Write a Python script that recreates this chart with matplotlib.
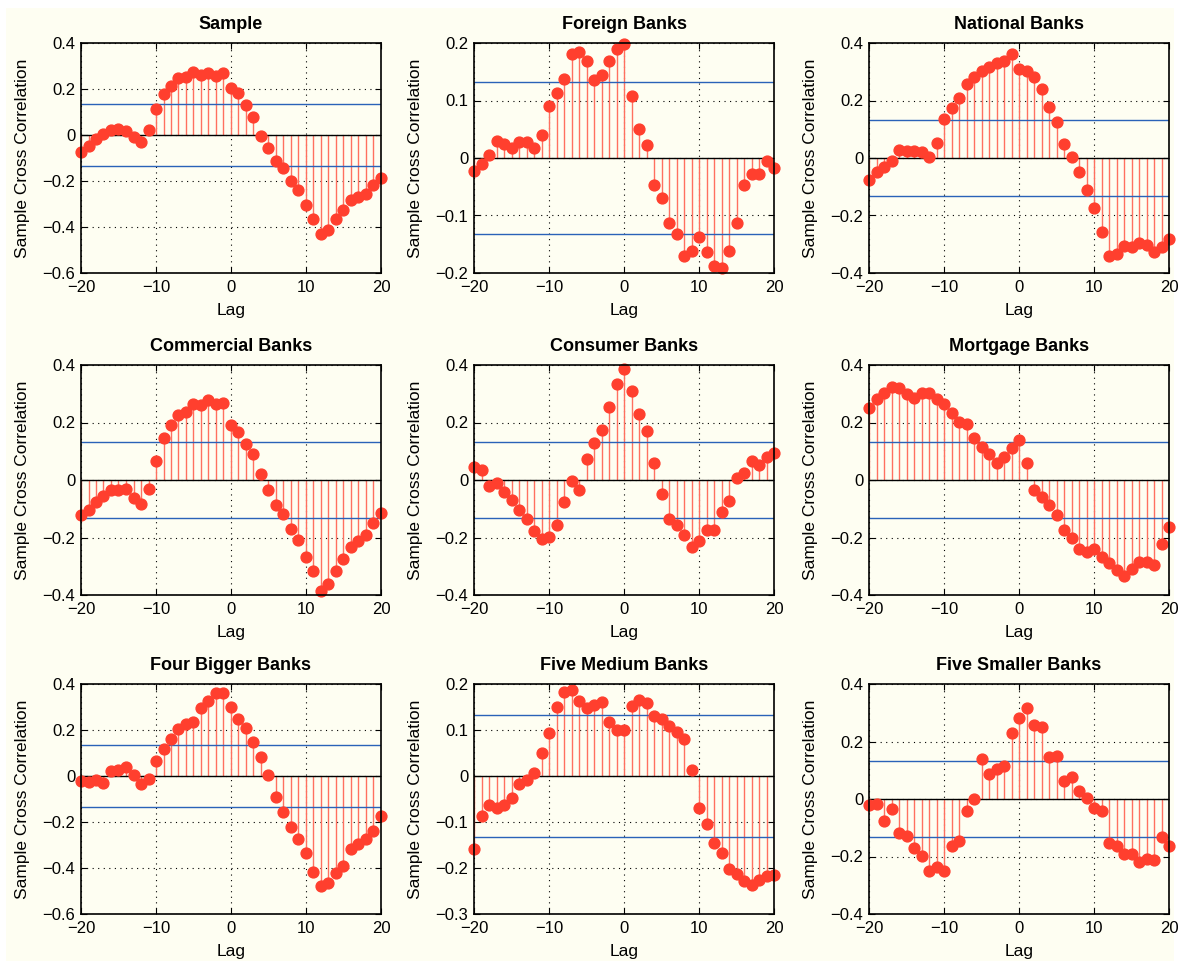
import numpy as np
import matplotlib
matplotlib.use('Agg')
import matplotlib.pyplot as plt
from matplotlib.patches import Rectangle
from matplotlib.ticker import FuncFormatter

plt.rcParams['font.family'] = ['Liberation Sans', 'DejaVu Sans']

lags = list(range(-20, 21))
bound = 0.133

titles = ['Sample', 'Foreign Banks', 'National Banks',
          'Commercial Banks', 'Consumer Banks', 'Mortgage Banks',
          'Four Bigger Banks', 'Five Medium Banks', 'Five Smaller Banks']

sample = [-0.072, -0.046, -0.017, 0.006, 0.023, 0.026, 0.016, -0.010, -0.029, 0.020,
          0.114, 0.180, 0.213, 0.249, 0.252, 0.273, 0.260, 0.271, 0.256, 0.271,
          0.203, 0.181, 0.129, 0.079, -0.006, -0.055, -0.111, -0.142, -0.200, -0.240,
          -0.305, -0.365, -0.430, -0.413, -0.365, -0.327, -0.283, -0.269, -0.258, -0.219,
          -0.187]
foreign = [-0.023, -0.010, 0.005, 0.029, 0.024, 0.017, 0.028, 0.028, 0.017, 0.040,
           0.091, 0.113, 0.138, 0.181, 0.184, 0.169, 0.136, 0.145, 0.169, 0.190,
           0.199, 0.108, 0.051, 0.023, -0.047, -0.069, -0.113, -0.132, -0.171, -0.161,
           -0.137, -0.164, -0.187, -0.191, -0.161, -0.113, -0.047, -0.028, -0.028, -0.005,
           -0.017]
national = [-0.075, -0.050, -0.031, -0.012, 0.029, 0.023, 0.023, 0.021, 0.002, 0.052,
            0.135, 0.173, 0.210, 0.258, 0.281, 0.304, 0.318, 0.329, 0.339, 0.362,
            0.309, 0.303, 0.283, 0.239, 0.177, 0.124, 0.050, 0.002, -0.050, -0.110,
            -0.173, -0.258, -0.341, -0.333, -0.306, -0.310, -0.295, -0.301, -0.326, -0.309,
            -0.283]
commercial = [-0.123, -0.106, -0.075, -0.056, -0.036, -0.036, -0.032, -0.061, -0.085, -0.032,
              0.066, 0.147, 0.191, 0.226, 0.237, 0.263, 0.260, 0.277, 0.266, 0.269,
              0.190, 0.167, 0.124, 0.090, 0.020, -0.035, -0.088, -0.117, -0.172, -0.210,
              -0.267, -0.317, -0.386, -0.363, -0.317, -0.276, -0.233, -0.212, -0.191, -0.148,
              -0.114]
consumer = [0.046, 0.034, -0.021, -0.012, -0.041, -0.070, -0.106, -0.135, -0.177, -0.204,
            -0.198, -0.158, -0.077, -0.003, -0.036, 0.072, 0.128, 0.174, 0.255, 0.333,
            0.385, 0.310, 0.229, 0.171, 0.058, -0.050, -0.137, -0.158, -0.193, -0.232,
            -0.212, -0.175, -0.175, -0.110, -0.073, 0.006, 0.023, 0.066, 0.052, 0.081,
            0.095]
mortgage = [0.252, 0.283, 0.302, 0.324, 0.319, 0.298, 0.284, 0.304, 0.304, 0.281,
            0.263, 0.234, 0.202, 0.194, 0.145, 0.115, 0.092, 0.060, 0.080, 0.113,
            0.139, 0.060, -0.036, -0.058, -0.087, -0.122, -0.174, -0.203, -0.241, -0.249,
            -0.241, -0.267, -0.288, -0.313, -0.334, -0.309, -0.284, -0.284, -0.294, -0.222,
            -0.164]
bigger = [-0.022, -0.026, -0.017, -0.029, 0.022, 0.025, 0.039, 0.003, -0.036, -0.012,
          0.065, 0.119, 0.159, 0.203, 0.225, 0.236, 0.294, 0.326, 0.362, 0.362,
          0.300, 0.249, 0.207, 0.149, 0.083, 0.004, -0.090, -0.155, -0.220, -0.275,
          -0.333, -0.417, -0.478, -0.467, -0.423, -0.391, -0.319, -0.297, -0.275, -0.239,
          -0.174]
medium = [-0.158, -0.087, -0.064, -0.070, -0.062, -0.047, -0.017, -0.009, 0.006, 0.049,
          0.093, 0.151, 0.183, 0.188, 0.164, 0.147, 0.154, 0.161, 0.117, 0.101,
          0.101, 0.152, 0.165, 0.159, 0.130, 0.125, 0.109, 0.096, 0.080, 0.013,
          -0.070, -0.105, -0.145, -0.168, -0.203, -0.214, -0.228, -0.238, -0.226, -0.217,
          -0.216]
smaller = [-0.021, -0.017, -0.075, -0.035, -0.119, -0.129, -0.170, -0.197, -0.252, -0.237,
           -0.249, -0.164, -0.145, -0.043, 0.000, 0.139, 0.087, 0.106, 0.116, 0.228,
           0.283, 0.316, 0.258, 0.249, 0.145, 0.150, 0.064, 0.075, 0.027, 0.003,
           -0.032, -0.043, -0.153, -0.165, -0.191, -0.191, -0.220, -0.208, -0.212, -0.133,
           -0.165]

series = [sample, foreign, national, commercial, consumer, mortgage, bigger, medium, smaller]

# y limits and tick step per panel
ylims = [(-0.6, 0.4), (-0.2, 0.2), (-0.4, 0.4),
         (-0.4, 0.4), (-0.4, 0.4), (-0.4, 0.4),
         (-0.6, 0.4), (-0.3, 0.2), (-0.4, 0.4)]
ysteps = [0.2, 0.1, 0.2, 0.2, 0.2, 0.2, 0.2, 0.1, 0.2]

cream = '#fefef2'
red = '#ff3f2e'
stemc = '#ff7060'
blue = '#2a62b8'

fig = plt.figure(figsize=(11.8, 9.65), dpi=100, facecolor='white')
fig.patches.append(Rectangle((6 / 1180, 0.004), 1 - 12 / 1180, 1 - 8 / 965 - 0.004,
                             transform=fig.transFigure, facecolor=cream,
                             edgecolor='none', zorder=-10))

lefts = [81, 474, 869]
tops = [43, 365, 684]
w, h = 300, 230


def fmt(v, pos):
    v = round(v, 6)
    if v == 0:
        return '0'
    s = f'{abs(v):g}'
    return ('\u2212' + s) if v < 0 else s


for i, (title, vals) in enumerate(zip(titles, series)):
    r, c = divmod(i, 3)
    ax = fig.add_axes([lefts[c] / 1180, 1 - (tops[r] + h) / 965, w / 1180, h / 965])
    ax.set_facecolor(cream)
    ml, sl, bl = ax.stem(lags, vals, linefmt='-', markerfmt='o', basefmt='-')
    plt.setp(sl, color=stemc, linewidth=1.0)
    plt.setp(ml, color=red, markersize=7.8, markeredgecolor=red, zorder=3, clip_on=False)
    plt.setp(bl, color='black', linewidth=1.0)
    ax.axhline(bound, color=blue, linewidth=1.0, zorder=2.5)
    ax.axhline(-bound, color=blue, linewidth=1.0, zorder=2.5)
    lo, hi = ylims[i]
    ax.set_xlim(-20, 20)
    ax.set_ylim(lo, hi)
    ax.set_xticks([-20, -10, 0, 10, 20])
    ax.set_yticks(np.arange(lo, hi + 1e-9, ysteps[i]))
    ax.xaxis.set_major_formatter(FuncFormatter(fmt))
    ax.yaxis.set_major_formatter(FuncFormatter(fmt))
    ax.grid(True, color='black', linestyle=(0, (1, 4)), linewidth=0.8)
    ax.tick_params(direction='in', top=True, right=True, length=4, width=0.8,
                   labelsize=12)
    ax.tick_params(axis='x', pad=5)
    ax.tick_params(axis='y', pad=4)
    for sp in ax.spines.values():
        sp.set_linewidth(1.2)
        sp.set_zorder(4)
    ax.set_title(title, fontsize=13, fontweight='bold', pad=10)
    ax.set_xlabel('Lag', fontsize=12.5, labelpad=6)
    ax.set_ylabel('Sample Cross Correlation', fontsize=12.5, labelpad=9)

fig.savefig('out.png', dpi=100, facecolor='white')
